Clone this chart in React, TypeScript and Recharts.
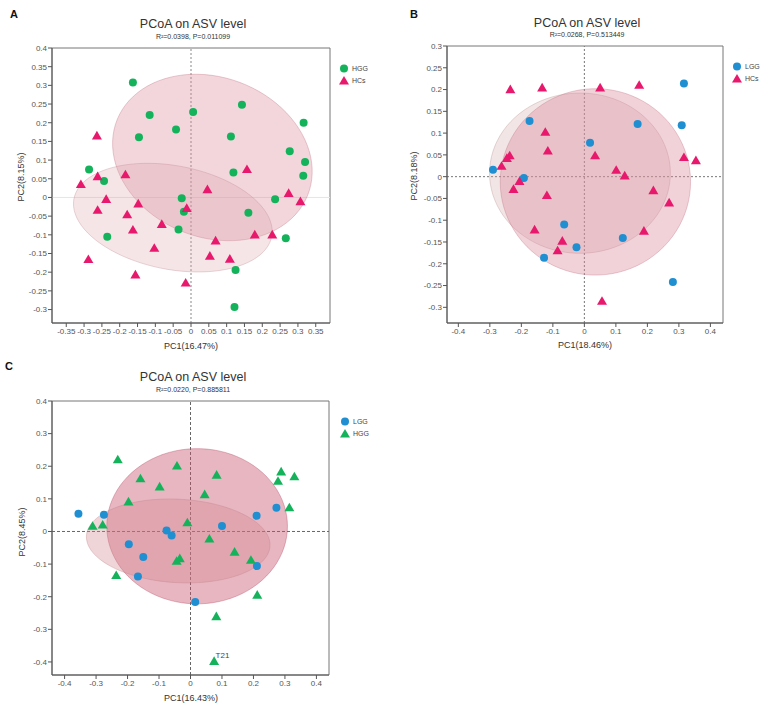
import { ScatterChart, Scatter, XAxis, YAxis, ReferenceLine, ReferenceArea, LabelList } from 'recharts'

const GREEN = '#14b35b'
const PINK = '#e8186c'
const BLUE = '#1f8fd2'
const FONT = '"Liberation Sans", Arial, sans-serif'

// ---- panel A: HGG vs HCs ----
const aHGG = [
  [-0.163, 0.308], [-0.116, 0.221], [-0.146, 0.161], [-0.042, 0.182], [0.006, 0.229],
  [0.143, 0.248], [0.112, 0.163], [0.316, 0.2], [0.277, 0.124], [0.32, 0.095],
  [0.315, 0.058], [0.119, 0.067], [-0.286, 0.075], [-0.244, 0.044], [-0.026, -0.002],
  [-0.02, -0.038], [-0.035, -0.086], [-0.235, -0.105], [0.161, -0.041], [0.236, -0.005],
  [0.266, -0.109], [0.125, -0.194], [0.122, -0.293],
]
const aHCs = [
  [-0.264, 0.165], [-0.309, 0.035], [-0.262, 0.056], [-0.184, 0.061], [-0.238, -0.005],
  [-0.262, -0.034], [-0.148, -0.017], [-0.179, -0.046], [-0.163, -0.087], [-0.082, -0.072],
  [-0.103, -0.136], [-0.288, -0.166], [-0.156, -0.207], [-0.015, -0.229], [-0.012, -0.029],
  [0.046, 0.021], [0.157, 0.075], [0.069, -0.116], [0.053, -0.157], [0.109, -0.165],
  [0.179, -0.1], [0.228, -0.1], [0.274, 0.011], [0.307, -0.011],
]
const aXTicks = [-0.35, -0.3, -0.25, -0.2, -0.15, -0.1, -0.05, 0, 0.05, 0.1, 0.15, 0.2, 0.25, 0.3, 0.35]
const aYTicks = [-0.3, -0.25, -0.2, -0.15, -0.1, -0.05, 0, 0.05, 0.1, 0.15, 0.2, 0.25, 0.3, 0.35, 0.4]
// confidence ellipses: cx, cy, semi-axis a, semi-axis b, angle (deg)
const aEllHGG = [0.06, 0.107, 0.286, 0.215, -18]
const aEllHCs = [-0.051, -0.054, 0.282, 0.139, -10]

// ---- panel B: LGG vs HCs ----
const bLGG = [
  [0.316, 0.214], [-0.174, 0.128], [0.169, 0.121], [0.309, 0.118], [0.018, 0.078],
  [-0.29, 0.016], [-0.192, -0.003], [-0.064, -0.11], [0.122, -0.141], [-0.025, -0.162],
  [-0.128, -0.186], [0.281, -0.242],
]
const bHCs = [
  [-0.235, 0.2], [-0.134, 0.204], [0.05, 0.204], [0.174, 0.21], [-0.124, 0.102],
  [-0.116, 0.059], [-0.237, 0.048], [-0.246, 0.042], [-0.263, 0.024], [0.034, 0.048],
  [0.101, 0.015], [0.128, 0.002], [0.316, 0.044], [0.354, 0.037], [-0.206, -0.011],
  [-0.225, -0.029], [-0.119, -0.043], [0.219, -0.032], [0.269, -0.06], [-0.158, -0.122],
  [-0.07, -0.148], [-0.085, -0.17], [0.189, -0.125], [0.056, -0.286],
]
const bXTicks = [-0.4, -0.3, -0.2, -0.1, 0, 0.1, 0.2, 0.3, 0.4]
const bYTicks = [-0.3, -0.25, -0.2, -0.15, -0.1, -0.05, 0, 0.05, 0.1, 0.15, 0.2, 0.25, 0.3]
const bEllLGG = [-0.014, 0.008, 0.287, 0.184, 0]
const bEllHCs = [0.035, -0.012, 0.302, 0.214, 0]

// ---- panel C: LGG vs HGG ----
const cLGG = [
  [-0.356, 0.054], [-0.275, 0.051], [-0.076, 0.003], [-0.06, -0.012], [-0.196, -0.039],
  [-0.15, -0.078], [-0.167, -0.138], [0.1, 0.017], [0.21, 0.048], [0.273, 0.073],
  [0.211, -0.106], [0.015, -0.216],
]
const cHGG = [
  [-0.231, 0.22], [-0.043, 0.201], [-0.159, 0.162], [-0.098, 0.137], [0.083, 0.173],
  [0.045, 0.113], [-0.197, 0.091], [0.288, 0.183], [0.278, 0.154], [0.33, 0.168],
  [0.314, 0.073], [-0.01, 0.027], [-0.311, 0.016], [-0.279, 0.02], [0.06, -0.023],
  [0.14, -0.063], [0.192, -0.088], [-0.034, -0.083], [-0.044, -0.091], [-0.236, -0.135],
  [0.212, -0.195], [0.082, -0.261], [0.075, -0.398],
]
const cHGGTags: Record<number, string> = { 22: 'T21' }
const cXTicks = [-0.4, -0.3, -0.2, -0.1, 0, 0.1, 0.2, 0.3, 0.4]
const cYTicks = [-0.4, -0.3, -0.2, -0.1, 0, 0.1, 0.2, 0.3, 0.4]
const cEllLGG = [-0.039, -0.029, 0.292, 0.128, -3]
const cEllHGG = [0.021, 0.016, 0.287, 0.238, 0]

const toPts = (arr: number[][], tags: Record<number, string> = {}) =>
  arr.map(([x, y], i) => ({ x, y, label: tags[i] }))

// outline of an ellipse in data units
const ellipse = ([cx, cy, a, b, deg]: number[]) => {
  const t = (deg * Math.PI) / 180
  const out = []
  for (let i = 0; i < 90; i++) {
    const u = (i / 90) * Math.PI * 2
    out.push({
      x: cx + a * Math.cos(t) * Math.cos(u) - b * Math.sin(t) * Math.sin(u),
      y: cy + a * Math.sin(t) * Math.cos(u) + b * Math.cos(t) * Math.sin(u),
    })
  }
  return out
}

const dot = (color: string) => (p: any) => <circle cx={p.cx} cy={p.cy} r={4} fill={color} />
const tri = (color: string) => (p: any) => (
  <path d={`M${p.cx},${p.cy - 5}L${p.cx + 5},${p.cy + 3.6}L${p.cx - 5},${p.cy + 3.6}Z`} fill={color} />
)
const none = () => <g />

const Txt = ({ x, y, size, children, bold, rotate, color = '#333' }: any) => (
  <div
    style={{
      position: 'absolute', left: x, top: y, fontSize: size, fontWeight: bold ? 700 : 400,
      color, whiteSpace: 'nowrap', lineHeight: 1,
      transform: `translate(-50%,-50%)${rotate ? ` rotate(${rotate}deg)` : ''}`,
    }}
  >
    {children}
  </div>
)

const Legend = ({ x, y, items }: any) => (
  <div style={{ position: 'absolute', left: x, top: y }}>
    {items.map((it: any, i: number) => (
      <div key={i} style={{ display: 'flex', alignItems: 'center', height: 12, fontSize: 7, color: '#444' }}>
        <svg width={11} height={11} style={{ marginRight: 2 }}>
          {it.shape === 'circle' ? (
            <circle cx={5} cy={5.5} r={4} fill={it.color} />
          ) : (
            <path d="M5,1L10,9.6L0,9.6Z" fill={it.color} />
          )}
        </svg>
        {it.name}
      </div>
    ))}
  </div>
)

function Panel(props: any) {
  const { left, top, width, height, mTop, mRight, xH, xDomain, yDomain, xTicks, yTicks, ells, series, hLine, vLine } = props
  return (
    <div style={{ position: 'absolute', left, top }}>
      <ScatterChart width={width} height={height} margin={{ top: mTop, right: mRight, bottom: 0, left: 0 }}>
        <XAxis
          type="number" dataKey="x" domain={xDomain} ticks={xTicks} allowDataOverflow interval={0}
          height={xH} tickSize={4} tickMargin={1} stroke="#555" tick={{ fontSize: 8, fill: '#555' }}
        />
        <YAxis
          type="number" dataKey="y" domain={yDomain} ticks={yTicks} allowDataOverflow interval={0}
          width={52} tickSize={4} tickMargin={1} stroke="#555" tick={{ fontSize: 8, fill: '#555' }}
        />
        <ReferenceArea x1={xDomain[0]} x2={xDomain[1]} y1={yDomain[0]} y2={yDomain[1]} fill="none" stroke="#777" strokeWidth={1} />
        {ells.map((e: any, i: number) => (
          <Scatter
            key={'e' + i} data={ellipse(e.p)} shape={none} isAnimationActive={false}
            line={{ fill: e.fill, fillOpacity: e.op, stroke: e.stroke, strokeOpacity: 0.5, strokeWidth: 0.7 }}
            lineJointType="linearClosed"
          />
        ))}
        <ReferenceLine y={0} stroke={hLine.c} strokeDasharray={hLine.d} />
        <ReferenceLine x={0} stroke={vLine.c} strokeDasharray={vLine.d} />
        {series.map((s: any, i: number) => (
          <Scatter key={'s' + i} data={s.data} shape={s.shape} isAnimationActive={false}>
            {s.labels && <LabelList dataKey="label" position="right" offset={-3} dy={-6} fontSize={8} fill="#444" />}
          </Scatter>
        ))}
      </ScatterChart>
    </div>
  )
}

export default function App() {
  return (
    <div style={{ position: 'absolute', left: 0, top: 0, width: 767, height: 706, background: '#fff', overflow: 'hidden', fontFamily: FONT }}>
      <Panel
        left={0} top={0} width={380} height={360} mTop={48} mRight={50} xH={37}
        xDomain={[-0.39, 0.39]} yDomain={[-0.336, 0.4]} xTicks={aXTicks} yTicks={aYTicks}
        ells={[
          { p: aEllHGG, fill: '#d98a9b', op: 0.35, stroke: '#c07080' },
          { p: aEllHCs, fill: '#d9a0a8', op: 0.27, stroke: '#c08a92' },
        ]}
        hLine={{ c: '#f0e0e2', d: undefined }} vLine={{ c: '#888', d: '2 2' }}
        series={[
          { data: toPts(aHGG), shape: dot(GREEN) },
          { data: toPts(aHCs), shape: tri(PINK) },
        ]}
      />
      <Panel
        left={395} top={0} width={372} height={360} mTop={46} mRight={44} xH={37}
        xDomain={[-0.436, 0.44]} yDomain={[-0.336, 0.3]} xTicks={bXTicks} yTicks={bYTicks}
        ells={[
          { p: bEllLGG, fill: '#d4a8a8', op: 0.3, stroke: '#b89090' },
          { p: bEllHCs, fill: '#d98a9b', op: 0.38, stroke: '#c07080' },
        ]}
        hLine={{ c: '#777', d: '2 2' }} vLine={{ c: '#777', d: '2 2' }}
        series={[
          { data: toPts(bLGG), shape: dot(BLUE) },
          { data: toPts(bHCs), shape: tri(PINK) },
        ]}
      />
      <Panel
        left={0} top={352} width={380} height={354} mTop={49} mRight={51} xH={31}
        xDomain={[-0.44, 0.44]} yDomain={[-0.44, 0.4]} xTicks={cXTicks} yTicks={cYTicks}
        ells={[
          { p: cEllHGG, fill: '#c8506c', op: 0.42, stroke: '#b04058' },
          { p: cEllLGG, fill: '#d08890', op: 0.35, stroke: '#c08088' },
        ]}
        hLine={{ c: '#666', d: '3 2' }} vLine={{ c: '#666', d: '3 2' }}
        series={[
          { data: toPts(cLGG), shape: dot(BLUE) },
          { data: toPts(cHGG, cHGGTags), shape: tri(GREEN), labels: true },
        ]}
      />

      <Txt x={14} y={14} size={11} bold color="#111">A</Txt>
      <Txt x={414} y={14} size={11} bold color="#111">B</Txt>
      <Txt x={9} y={366} size={11} bold color="#111">C</Txt>

      <Txt x={193} y={24} size={12.5}>PCoA on ASV level</Txt>
      <Txt x={193} y={36} size={7}>R²=0.0398, P=0.011099</Txt>
      <Txt x={587} y={23} size={12.5}>PCoA on ASV level</Txt>
      <Txt x={587} y={34} size={7}>R²=0.0268, P=0.513449</Txt>
      <Txt x={193} y={377} size={12.5}>PCoA on ASV level</Txt>
      <Txt x={193} y={389} size={7}>R²=0.0220, P=0.885811</Txt>

      <Txt x={191} y={346} size={9}>PC1(16.47%)</Txt>
      <Txt x={585} y={345} size={9}>PC1(18.46%)</Txt>
      <Txt x={191} y={698} size={9}>PC1(16.43%)</Txt>
      <Txt x={21} y={177} size={9} rotate={-90}>PC2(8.15%)</Txt>
      <Txt x={414} y={176} size={9} rotate={-90}>PC2(8.18%)</Txt>
      <Txt x={22} y={532} size={9} rotate={-90}>PC2(8.45%)</Txt>

      <Legend x={339} y={62} items={[{ shape: 'circle', color: GREEN, name: 'HGG' }, { shape: 'tri', color: PINK, name: 'HCs' }]} />
      <Legend x={732} y={60} items={[{ shape: 'circle', color: BLUE, name: 'LGG' }, { shape: 'tri', color: PINK, name: 'HCs' }]} />
      <Legend x={340} y={415} items={[{ shape: 'circle', color: BLUE, name: 'LGG' }, { shape: 'tri', color: GREEN, name: 'HGG' }]} />
    </div>
  )
}
